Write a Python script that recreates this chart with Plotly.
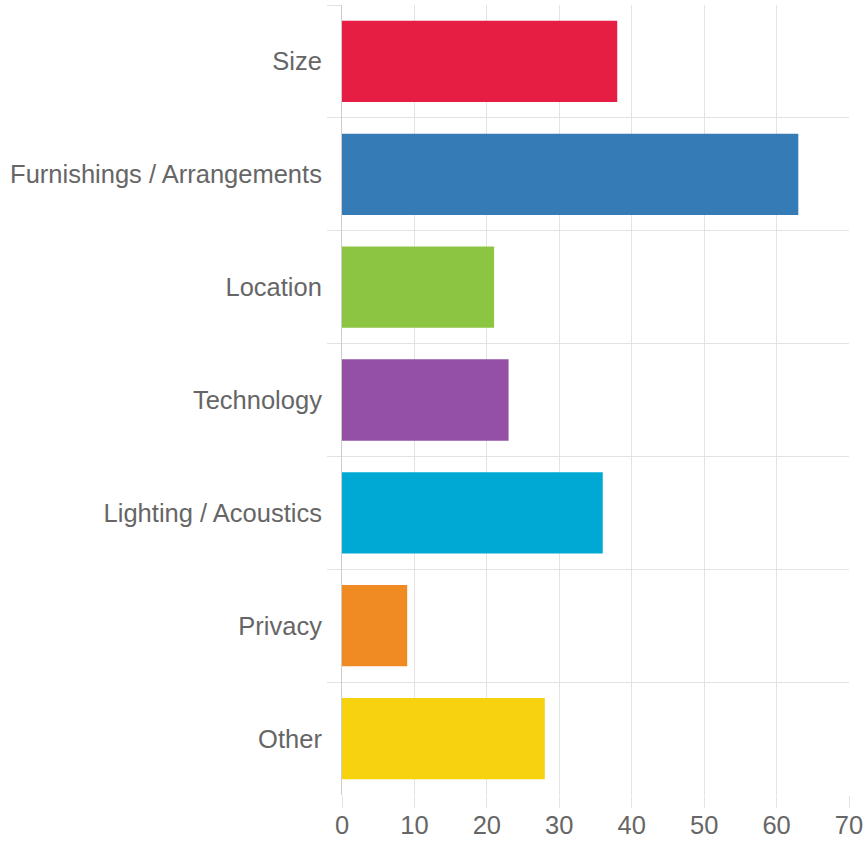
import plotly.graph_objects as go

categories = ["Size", "Furnishings / Arrangements", "Location", "Technology",
              "Lighting / Acoustics", "Privacy", "Other"]
values = [38, 63, 21, 23, 36, 9, 28]
colors = ["#E61E44", "#357CB7", "#8CC542", "#9450A4", "#00A9D4", "#EF8B22", "#F7D30F"]
x_ticks = [0, 10, 20, 30, 40, 50, 60, 70]

fig = go.Figure(go.Bar(
    x=values, y=categories, orientation="h",
    marker=dict(color=colors, line=dict(width=0)),
    hoverinfo="x+y",
))

font = dict(family="Liberation Sans, Arial, sans-serif", size=25.5, color="#666666")

fig.update_layout(
    width=866, height=841,
    margin=dict(l=342, r=17, t=5, b=46),
    paper_bgcolor="white", plot_bgcolor="white",
    bargap=0.28,
    showlegend=False,
    font=font,
    xaxis=dict(
        range=[0, 70], tickvals=x_ticks, showgrid=True, gridcolor="#e3e3e3", gridwidth=1,
        zeroline=False, showline=False, automargin=False,
        ticks="outside", ticklen=12, tickcolor="#e3e3e3", tickwidth=1,
        tickfont=font, ticklabelstandoff=-5,
    ),
    yaxis=dict(
        type="category", autorange="reversed", tickson="boundaries",
        showgrid=True, gridcolor="#e3e3e3", gridwidth=1,
        ticks="outside", ticklen=14, tickcolor="#e3e3e3", tickwidth=1,
        showline=True, linecolor="#cccccc", linewidth=1, automargin=False,
        zeroline=False, tickfont=font, ticklabelstandoff=14,
    ),
)

fig.write_html("out.html", config={"displayModeBar": False},
               post_script="document.body.style.margin='0';document.body.style.overflow='hidden';")
